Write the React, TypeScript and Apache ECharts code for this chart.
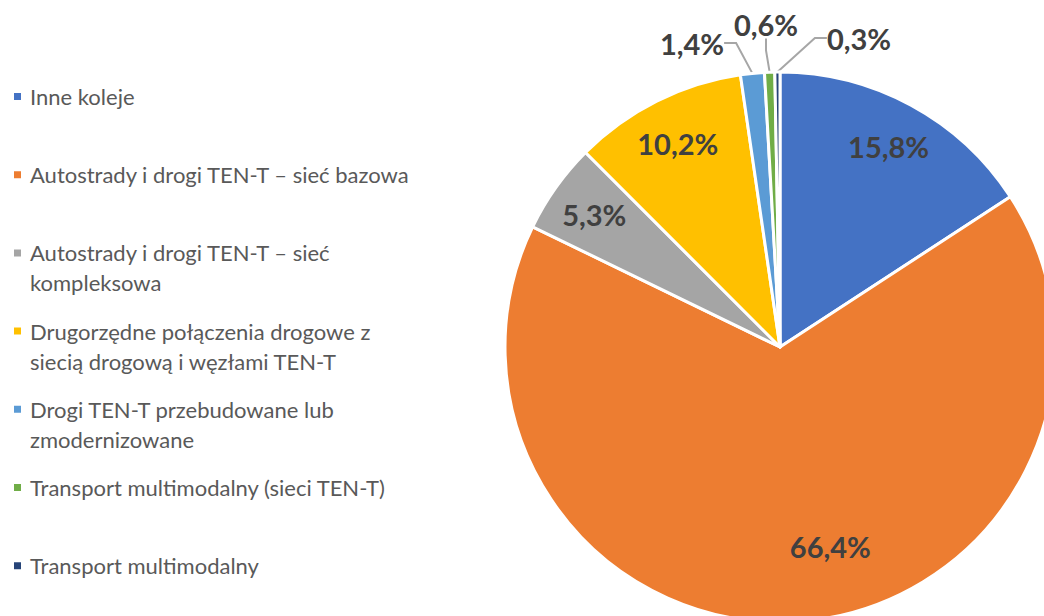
import React, { useEffect, useRef } from "react";
import * as echarts from "echarts";

const categories = [
  "Inne koleje",
  "Autostrady i drogi TEN-T – sieć bazowa",
  "Autostrady i drogi TEN-T – sieć kompleksowa",
  "Drugorzędne połączenia drogowe z siecią drogową i węzłami TEN-T",
  "Drogi TEN-T przebudowane lub zmodernizowane",
  "Transport multimodalny (sieci TEN-T)",
  "Transport multimodalny",
];

const shares = [15.8, 66.4, 5.3, 10.2, 1.4, 0.6, 0.3];

const colors = ["#4472C4", "#ED7D31", "#A5A5A5", "#FFC000", "#5B9BD5", "#70AD47", "#264478"];

const legendLabels = [
  "Inne koleje",
  "Autostrady i drogi TEN-T – sieć bazowa",
  "Autostrady i drogi TEN-T – sieć\nkompleksowa",
  "Drugorzędne połączenia drogowe z\nsiecią drogową i węzłami TEN-T",
  "Drogi TEN-T przebudowane lub\nzmodernizowane",
  "Transport multimodalny (sieci TEN-T)",
  "Transport multimodalny",
];

const FONT = "Lato, 'Liberation Sans', sans-serif";

export default function App() {
  const ref = useRef<HTMLDivElement>(null);

  useEffect(() => {
    const chart = echarts.init(ref.current!, null, { renderer: "svg" });
    const fmt = (v: number) => v.toFixed(1).replace(".", ",") + "%";
    const center = [780, 347];
    const R = 275;
    const LH = 30;
    const legendFirst = 96.5;
    const legendStep = 78.2;

    const legends = categories.map((name, i) => {
      const lines = legendLabels[i].split("\n").length;
      const text = lines > 1 ? "\n" + legendLabels[i] : legendLabels[i];
      const c = legendFirst + legendStep * i;
      const top = lines > 1 ? c - LH * 1.5 : c - LH / 2;
      return {
        data: [{ name, itemStyle: { color: colors[i] } }],
        left: 12,
        top,
        padding: 0,
        orient: "vertical",
        icon: "rect",
        itemWidth: 9,
        itemHeight: 9,
        itemGap: 0,
        selectedMode: false,
        formatter: () => text,
        textStyle: {
          fontFamily: FONT,
          fontSize: 22,
          color: "#595959",
          lineHeight: LH,
          padding: [0, 0, 0, 3],
        },
      };
    });

    const outsidePos: Record<number, [number, number]> = {
      4: [692, 43],
      5: [766, 24],
      6: [859, 38],
    };

    const labelText = {
      fontFamily: FONT,
      fontSize: 29,
      fontWeight: "bold",
      color: "#404040",
    };

    chart.setOption({
      animation: false,
      backgroundColor: "#ffffff",
      legend: legends,
      series: [
        {
          type: "pie",
          center,
          radius: R,
          startAngle: 90,
          clockwise: true,
          avoidLabelOverlap: false,
          itemStyle: { borderColor: "#ffffff", borderWidth: 3 },
          data: categories.map((name, i) => ({
            name,
            value: shares[i],
            itemStyle: { color: colors[i] },
            label: { show: shares[i] < 2 },
            labelLine: { show: shares[i] < 2 },
          })),
          label: {
            position: "outside",
            formatter: (p: any) => fmt(p.value),
            ...labelText,
          },
          labelLine: {
            length: 12,
            length2: 12,
            lineStyle: { color: "#A6A6A6", width: 2 },
          },
          labelLayout: (p: any) => {
            const pos = outsidePos[p.dataIndex];
            if (!pos) return {};
            return { x: pos[0], y: pos[1], align: "center", verticalAlign: "middle" };
          },
        },
        {
          type: "pie",
          center,
          radius: [175, R],
          startAngle: 90,
          clockwise: true,
          silent: true,
          itemStyle: { color: "rgba(0,0,0,0)", borderWidth: 0 },
          data: categories.map((name, i) => ({
            name,
            value: shares[i],
            label: { show: shares[i] >= 2 },
          })),
          label: {
            position: "inside",
            formatter: (p: any) => fmt(p.value),
            ...labelText,
          },
          labelLine: { show: false },
          labelLayout: (p: any) => (p.dataIndex === 1 ? { dx: 36, dy: -28 } : {}),
        },
      ],
    });

    return () => chart.dispose();
  }, []);

  return (
    <div
      ref={ref}
      style={{ position: "fixed", left: 0, top: 0, width: 1044, height: 616, background: "#ffffff" }}
    />
  );
}
